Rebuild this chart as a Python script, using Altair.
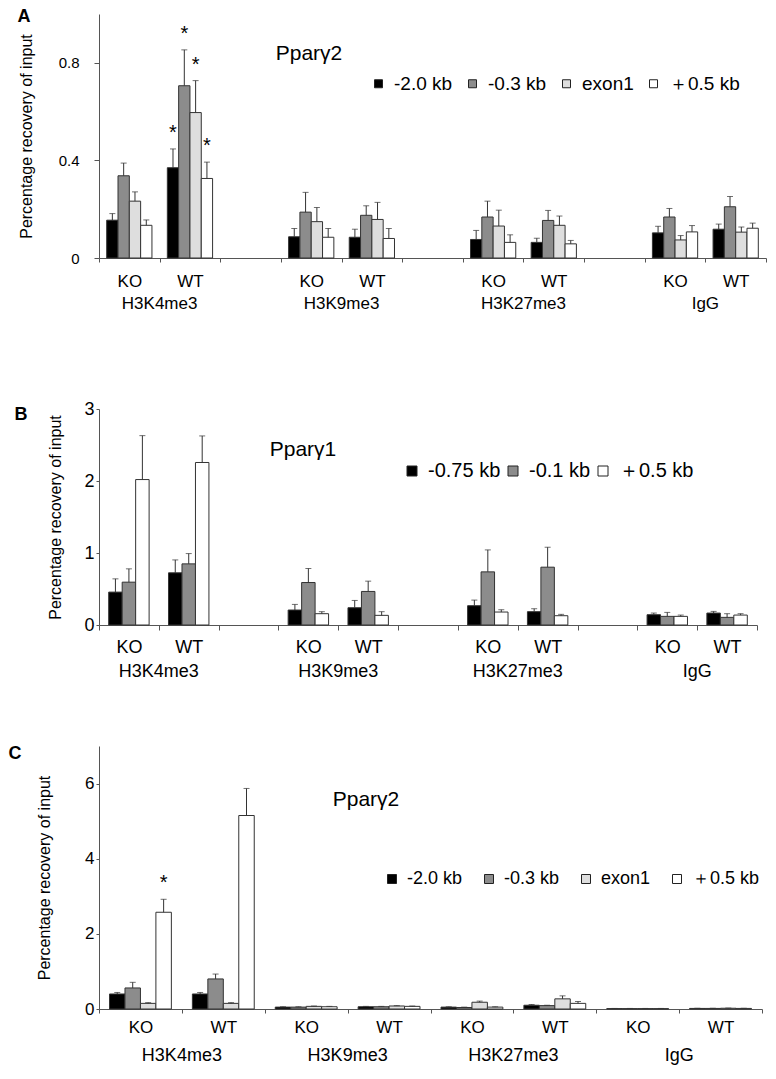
import altair as alt
import pandas as pd

FONT = "Liberation Sans, Arial, sans-serif"
NARROW = "Liberation Sans Narrow, Liberation Sans, Arial, sans-serif"

groups = ["H3K4me3", "H3K9me3", "H3K27me3", "IgG"]
genotypes = ["KO", "WT"]

# ---------- Panel A : Ppar-gamma2 ----------
series_a = ["-2.0 kb", "-0.3 kb", "exon1", "＋0.5 kb"]
colors_a = ["#000000", "#8c8c8c", "#dedede", "#ffffff"]
# rows: H3K4me3 KO, H3K4me3 WT, H3K9me3 KO, H3K9me3 WT, H3K27me3 KO, H3K27me3 WT, IgG KO, IgG WT
mean_a = [
    [0.155, 0.337, 0.233, 0.134],
    [0.370, 0.706, 0.596, 0.326],
    [0.087, 0.188, 0.149, 0.085],
    [0.085, 0.175, 0.158, 0.080],
    [0.076, 0.168, 0.131, 0.064],
    [0.064, 0.154, 0.134, 0.058],
    [0.103, 0.168, 0.074, 0.107],
    [0.118, 0.210, 0.106, 0.122],
]
err_a = [
    [0.027, 0.052, 0.038, 0.022],
    [0.077, 0.147, 0.131, 0.067],
    [0.034, 0.081, 0.058, 0.036],
    [0.033, 0.039, 0.070, 0.041],
    [0.037, 0.065, 0.065, 0.031],
    [0.017, 0.041, 0.038, 0.014],
    [0.027, 0.035, 0.018, 0.026],
    [0.021, 0.042, 0.021, 0.021],
]
sig_a = [
    [0, 0, 0, 0],
    [1, 1, 1, 1],
    [0, 0, 0, 0],
    [0, 0, 0, 0],
    [0, 0, 0, 0],
    [0, 0, 0, 0],
    [0, 0, 0, 0],
    [0, 0, 0, 0],
]
yticks_a = [0, 0.2, 0.4, 0.6, 0.8, 1]

# ---------- Panel B : Ppar-gamma1 ----------
series_b = ["-0.75 kb", "-0.1 kb", "＋0.5 kb"]
colors_b = ["#000000", "#8c8c8c", "#ffffff"]
mean_b = [
    [0.457, 0.595, 2.020],
    [0.725, 0.849, 2.257],
    [0.208, 0.590, 0.157],
    [0.240, 0.466, 0.134],
    [0.268, 0.738, 0.180],
    [0.185, 0.803, 0.129],
    [0.143, 0.120, 0.120],
    [0.166, 0.106, 0.138],
]
err_b = [
    [0.184, 0.185, 0.610],
    [0.179, 0.143, 0.369],
    [0.078, 0.195, 0.028],
    [0.101, 0.143, 0.051],
    [0.078, 0.305, 0.032],
    [0.041, 0.277, 0.019],
    [0.023, 0.055, 0.018],
    [0.023, 0.051, 0.019],
]
sig_b = [[0, 0, 0] for _ in range(8)]
yticks_b = [0, 0.5, 1, 1.5, 2, 2.5, 3]

# ---------- Panel C : Ppar-gamma2 ----------
series_c = ["-2.0 kb", "-0.3 kb", "exon1", "＋0.5 kb"]
colors_c = ["#000000", "#8c8c8c", "#dedede", "#ffffff"]
mean_c = [
    [0.40, 0.56, 0.15, 2.575],
    [0.40, 0.80, 0.15, 5.15],
    [0.05, 0.05, 0.07, 0.06],
    [0.06, 0.06, 0.08, 0.07],
    [0.05, 0.04, 0.18, 0.05],
    [0.10, 0.09, 0.27, 0.15],
    [0.01, 0.01, 0.01, 0.01],
    [0.015, 0.015, 0.02, 0.015],
]
err_c = [
    [0.04, 0.15, 0.02, 0.345],
    [0.04, 0.13, 0.02, 0.72],
    [0.01, 0.01, 0.01, 0.01],
    [0.01, 0.01, 0.01, 0.01],
    [0.01, 0.01, 0.03, 0.01],
    [0.02, 0.01, 0.08, 0.05],
    [0.005, 0.005, 0.005, 0.005],
    [0.005, 0.005, 0.005, 0.005],
]
sig_c = [
    [0, 0, 0, 1],
    [0, 0, 0, 0],
    [0, 0, 0, 0],
    [0, 0, 0, 0],
    [0, 0, 0, 0],
    [0, 0, 0, 0],
    [0, 0, 0, 0],
    [0, 0, 0, 0],
]
yticks_c = [0, 1, 2, 3, 4, 5, 6, 7]

YTITLE = "Percentage recovery of input"
AXC = "#555555"


def build(series, means, errs, sig):
    rows = []
    k = 0
    for g in groups:
        for gt in genotypes:
            for s, m, e, sg in zip(series, means[k], errs[k], sig[k]):
                rows.append(dict(slot=f"{g}|{gt}", series=s, mean=m, top=m + e, sig=sg))
            k += 1
    return pd.DataFrame(rows)


def slots(gap):
    out = []
    for i, g in enumerate(groups):
        out += [f"{g}|KO", f"{g}|WT"]
        if gap and i < len(groups) - 1:
            out.append(f"gap{i}")
    return out


def panel(df, series, colors, slot_dom, c):
    w, h, off = c["w"], c["h"], c["off"]
    H = h + off
    xscale = alt.Scale(domain=slot_dom, paddingInner=0, paddingOuter=0)
    xoff = alt.Scale(domain=series, paddingInner=0, paddingOuter=c["pad"])
    yscale = alt.Scale(domain=[0, c["ymax"]], range=[H, off], nice=False, zero=True)
    xaxis = alt.Axis(
        title=None, labelAngle=0, tickBand="extent", tickSize=c["xtick"], tickColor=AXC,
        domainColor=AXC, labelFont=c["xfont"], labelFontSize=c["xfs"], labelColor="black",
        labelPadding=c["xlp"], grid=False, labelOverlap=False,
        labelExpr="isString(datum.value) && indexof(datum.value, '|') > 0 ? split(datum.value, '|')[1] : ''",
    )
    yaxis = alt.Axis(
        values=c["yticks"], tickCount=len(c["yticks"]) - 1, format="~g", labelFont=FONT,
        labelFontSize=c["yfs"], labelColor="black",
        tickSize=c["ytick"], tickColor=AXC, domainColor=AXC, labelPadding=c["ylp"], grid=False,
        labelOverlap=False,
        title=YTITLE, titleFont=FONT, titleFontSize=16, titleFontWeight="normal", titleColor="black",
        titlePadding=c["tp"],
    )
    XO = alt.XOffset("series:N", scale=xoff, sort=series)
    X = alt.X("slot:N", scale=xscale, sort=slot_dom)
    base = alt.Chart(df)
    bars = base.mark_bar(stroke="#333333", strokeWidth=1).encode(
        x=alt.X("slot:N", scale=xscale, sort=slot_dom, axis=xaxis),
        xOffset=XO,
        y=alt.Y("mean:Q", scale=yscale, axis=yaxis),
        color=alt.Color(
            "series:N", sort=series, scale=alt.Scale(domain=series, range=colors),
            legend=alt.Legend(
                title=None, orient="none", legendX=c["lx"], legendY=c["ly"] + off, direction="horizontal",
                columns=len(series), symbolType="square", symbolSize=c["ss"], symbolStrokeColor="#222222",
                symbolStrokeWidth=1, labelFont=FONT, labelFontSize=c["lfs"], labelColor="black",
                columnPadding=c["cp"], labelOffset=6,
            ),
        ),
    )
    rules = base.mark_rule(color="#333333", strokeWidth=1).encode(
        x=X, xOffset=XO,
        y=alt.Y("mean:Q", scale=yscale), y2="top:Q",
    )
    caps = base.mark_tick(color="#333333", thickness=1, size=6).encode(
        x=X, xOffset=XO, y=alt.Y("top:Q", scale=yscale),
    )
    layers = [bars, rules, caps]
    if sum(sum(r) for r in c["sig"]) > 0:
        stars = base.transform_filter("datum.sig == 1").mark_text(
            text="*", font=FONT, fontSize=c["sfs"], baseline="alphabetic", dy=-10, color="black"
        ).encode(x=X, xOffset=XO, y=alt.Y("top:Q", scale=yscale))
        layers.append(stars)
    gdf = pd.DataFrame({"slot": [f"{g}|KO" for g in groups], "name": groups})
    glab = alt.Chart(gdf).mark_text(
        font=c["xfont"], fontSize=c["gfs"], color="black", baseline="middle"
    ).encode(
        x=alt.X("slot:N", scale=xscale, sort=slot_dom, bandPosition=1),
        y=alt.value(H + c["gy"]),
        text="name:N",
    )
    letter = alt.Chart(pd.DataFrame({"t": [c["letter"]]})).mark_text(
        font=FONT, fontSize=18, fontWeight="bold", color="black", baseline="middle"
    ).encode(x=alt.value(c["letx"]), y=alt.value(c["lety"] + off), text="t:N")
    ttl = alt.Chart(pd.DataFrame({"t": [c["title"]]})).mark_text(
        font=FONT, fontSize=21, color="black", baseline="middle"
    ).encode(x=alt.value(c["ttx"]), y=alt.value(c["tty"] + off), text="t:N")
    layers += [glab, letter, ttl]
    return alt.layer(*layers).properties(width=w, height=H)


cfg_a = dict(w=667, h=244, off=0, ymax=1, yticks=yticks_a, pad=0.68, xtick=4, xfont=NARROW, xfs=17, xlp=11,
             yfs=15, ytick=5, ylp=15, tp=24, lx=270, ly=60, ss=64, lfs=19, cp=10, sfs=20, gfs=17, gy=46,
             letter="A", letx=-75, lety=3, title="Pparγ2", ttx=210, tty=40, sig=sig_a)
cfg_b = dict(w=658, h=216, off=30, ymax=3, yticks=yticks_b, pad=0.72, xtick=5, xfont=NARROW, xfs=18, xlp=8,
             yfs=18, ytick=3, ylp=2, tp=20, lx=303, ly=52, ss=100, lfs=20, cp=2, sfs=20, gfs=18, gy=47,
             letter="B", letx=-78, lety=6, title="Pparγ1", ttx=204, tty=41, sig=sig_b)
cfg_c = dict(w=663, h=263, off=0, ymax=7, yticks=yticks_c, pad=0.68, xtick=4, xfont=FONT, xfs=17, xlp=6,
             yfs=17, ytick=3, ylp=2, tp=32, lx=284, ly=124, ss=81, lfs=18, cp=17, sfs=20, gfs=18, gy=47,
             letter="C", letx=-84, lety=8, title="Pparγ2", ttx=267, tty=54, sig=sig_c)

chart_a = panel(build(series_a, mean_a, err_a, sig_a), series_a, colors_a, slots(True), cfg_a)
chart_b = panel(build(series_b, mean_b, err_b, sig_b), series_b, colors_b, slots(True), cfg_b)
chart_c = panel(build(series_c, mean_c, err_c, sig_c), series_c, colors_c, slots(False), cfg_c)

chart = alt.vconcat(chart_a, chart_b, chart_c, spacing=121, bounds="flush").resolve_scale(
    color="independent", xOffset="independent", x="independent", y="independent"
).properties(padding=0).configure_view(stroke=None)

chart.save("out.html", embed_options={"renderer": "svg", "actions": False})
